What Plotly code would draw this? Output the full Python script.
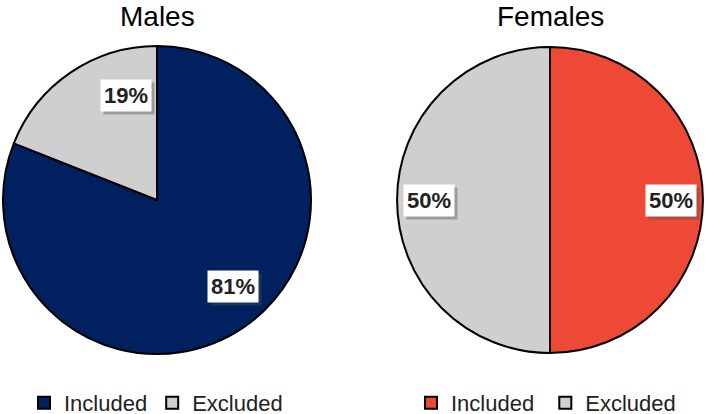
import math
import plotly.graph_objects as go

# data
groups = ["Males", "Females"]
labels = ["Included", "Excluded"]
males = [81, 19]
females = [50, 50]
male_colors = ["#002060", "#D0CECE"]
female_colors = ["#EE4836", "#D0CECE"]

W, H = 709, 414
domains = [[3 / W, 311 / W], [397 / W, 703 / W]]
ydom = [(414 - 355) / H, (414 - 45) / H]

fig = go.Figure()
for i, (vals, cols) in enumerate([(males, male_colors), (females, female_colors)]):
    # pie legends merge equal labels, so the second pie gets a trailing space
    labs = labels if i == 0 else [l + " " for l in labels]
    fig.add_trace(go.Pie(
        labels=labs, values=vals, sort=False, direction="clockwise", rotation=0,
        marker=dict(colors=cols, line=dict(color="black", width=2)),
        textinfo="none", domain=dict(x=domains[i], y=ydom),
        legend="legend" if i == 0 else "legend2", hoverinfo="label+percent",
    ))

# labels in white boxes, placed along the slice mid angle
nudge = [[-7, 18], [0, 0]]  # degrees, Excel "best fit" shifts them a bit
rfrac = [[0.75, 0.71], [0.79, 0.79]]
for i, vals in enumerate([males, females]):
    cx = (domains[i][0] + domains[i][1]) / 2 * W
    cy = H - (ydom[0] + ydom[1]) / 2 * H
    r = (domains[i][1] - domains[i][0]) * W / 2
    tot = sum(vals)
    start = 0
    for j, v in enumerate(vals):
        mid = (start + v / 2) / tot * 360 + nudge[i][j]
        start += v
        rr = r * rfrac[i][j]
        px = cx + rr * math.sin(math.radians(mid))
        py = cy - rr * math.cos(math.radians(mid))
        txt = "<b>%d%%</b>" % round(v / tot * 100)
        # shadow
        fig.add_annotation(x=(px + 3) / W, y=(H - py - 3) / H, xref="paper", yref="paper",
                           xanchor="center", yanchor="middle",
                           text=txt, showarrow=False, bgcolor="rgba(80,80,80,0.4)",
                           font=dict(family="Liberation Sans", size=22, color="rgba(0,0,0,0)"),
                           borderpad=3)
        fig.add_annotation(x=px / W, y=(H - py) / H, xref="paper", yref="paper",
                           xanchor="center", yanchor="middle",
                           text=txt, showarrow=False, bgcolor="white",
                           font=dict(family="Liberation Sans", size=22, color="#222222"),
                           borderpad=3)

for i, g in enumerate(groups):
    fig.add_annotation(x=(domains[i][0] + domains[i][1]) / 2, y=1 - 17 / H, xref="paper", yref="paper",
                       xanchor="center", yanchor="middle", text=g, showarrow=False,
                       font=dict(family="Liberation Sans", size=28, color="black"))

leg = dict(orientation="h", yanchor="middle", y=11 / H, xanchor="left",
           font=dict(family="Liberation Sans", size=22, color="#222222"),
           itemwidth=30, bgcolor="rgba(0,0,0,0)")
fig.update_layout(
    width=W, height=H, margin=dict(l=0, r=0, t=0, b=0, autoexpand=False),
    paper_bgcolor="white", plot_bgcolor="white",
    legend=dict(leg, x=24 / W),
    legend2=dict(leg, x=411 / W),
)
fig.write_html("out.html", config={"displayModeBar": False},
               post_script="document.body.style.margin='0';")
